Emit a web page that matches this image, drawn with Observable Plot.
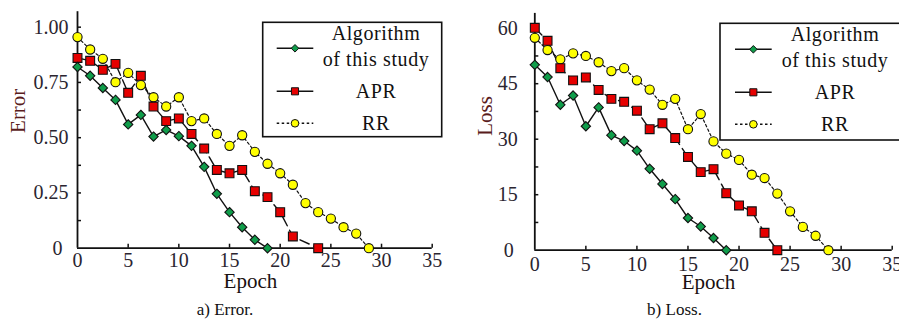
<!DOCTYPE html>
<html>
<head>
<meta charset="utf-8">
<script src="https://cdn.jsdelivr.net/npm/d3@7"></script>
<script src="https://cdn.jsdelivr.net/npm/@observablehq/plot@0.6"></script>
<style>
  html, body { margin: 0; padding: 0; background: #fff; }
  #wrap { display: flex; width: 899px; height: 326px; overflow: hidden; }
  .panel { position: relative; }
  .cap { font-family: "Liberation Serif", "Tinos", "DejaVu Serif", serif; font-size: 17px; text-align: center; height: 30px; line-height: 28px; color: #111; }
</style>
</head>
<body>
<div id="wrap">
  <div class="panel" id="p1"></div>
  <div class="panel" id="p2"></div>
</div>
<script>
// ---------- data ----------
const seriesNames = ["Algorithm of this study", "APR", "RR"];
const legendLines = [["Algorithm", "of this study"], ["APR"], ["RR"]];

const epochsOurs = [0,1.25,2.5,3.75,5,6.25,7.5,8.75,10,11.25,12.5,13.75,15,16.25,17.5,18.75];
const epochsAprErr = [0,1.25,2.5,3.75,5,6.25,7.5,8.75,10,11.25,12.5,13.75,15,16.25,17.5,18.75,20,21.25,23.75];
const epochsAprLoss = [0,1.25,2.5,3.75,5,6.25,7.5,8.75,10,11.25,12.5,13.75,15,16.25,17.5,18.75,20,21.25,22.5,23.75];
const epochsRR = [0,1.25,2.5,3.75,5,6.25,7.5,8.75,10,11.25,12.5,13.75,15,16.25,17.5,18.75,20,21.25,22.5,23.75,25,26.25,27.5,28.75];

const oursErr = [0.82,0.78,0.725,0.671,0.56,0.603,0.505,0.535,0.507,0.463,0.368,0.246,0.163,0.095,0.038,0];
const aprErr  = [0.861,0.848,0.807,0.834,0.703,0.78,0.641,0.575,0.587,0.517,0.451,0.354,0.339,0.354,0.258,0.231,0.163,0.053,0];
const rrErr   = [0.955,0.899,0.857,0.751,0.793,0.738,0.683,0.641,0.683,0.575,0.587,0.517,0.463,0.511,0.436,0.382,0.339,0.287,0.204,0.163,0.134,0.095,0.066,0];

const oursLoss = [50.1,46.8,39.3,41.8,33.5,38.6,31.1,29.5,26.9,22.0,17.9,13.8,8.7,6.4,3.3,0];
const aprLoss  = [60.1,56.6,49.2,45.9,46.7,43.3,40.9,40.1,37.7,32.7,34.3,30.3,25.2,21.1,21.9,15.4,12.1,10.5,4.7,0];
const rrLoss   = [57.4,54.1,51.6,53.2,52.5,50.8,48.4,49.2,45.9,43.4,39.3,40.9,32.7,36.8,29.4,26.1,24.4,20.4,19.5,15.3,10.5,6.3,3.9,0];

const xTicks = [0,5,10,15,20,25,30,35];
const errTickValues = [0,0.25,0.5,0.75,1];
const errTickLabels = ["0","0.25","0.50","0.75","1.00"];
const errMinor = [0.125,0.25,0.375,0.5,0.625,0.75,0.875,1];
const lossTickValues = [0,15,30,45,60];
const lossTickLabels = ["0","15","30","45","60"];
const lossMinor = [7.5,15,22.5,30,37.5,45,52.5,60];

const captions = ["a) Error.", "b) Loss."];
const yTitles = ["Error", "Loss"];
const xTitle = "Epoch";

// ---------- styling ----------
const FONT = "'Liberation Serif', 'Tinos', 'DejaVu Serif', serif";
const styles = [
  {fill: "#0f9d4a", symbol: "diamond2", r: 4.2, dash: null, sw: 1.4},
  {fill: "#e60000", symbol: "square", r: 5.0, dash: "10,5", sw: 1.4},
  {fill: "#ffff00", symbol: "circle", r: 4.6, dash: "2.5,2.5", sw: 1.2}
];

function rowsOf(xs, ys, s) { return xs.map((x, i) => ({epoch: x, value: ys[i], series: s})); }

function chart(cfg) {
  const H = 296;
  const fw = cfg.width - cfg.mL - cfg.mR;
  const fh = H - cfg.mT - cfg.mB;
  const marks = [
    Plot.ruleX([0], {y1: 0, y2: cfg.yMax, stroke: "#111", strokeWidth: 1.8}),
    Plot.ruleY([0], {x1: 0, x2: 35, stroke: "#111", strokeWidth: 1.8}),
    Plot.tickY(cfg.minor, {y: d => d, insetRight: fw - 4, stroke: "#111", strokeWidth: 1.5}),
    Plot.tickX(xTicks.slice(1), {x: d => d, insetTop: fh - 4, stroke: "#111", strokeWidth: 1.5}),
    Plot.axisY(cfg.tickValues.slice(1), {tickSize: 0, tickPadding: cfg.yPad, label: null, fontSize: 20, fill: "#2a2530",
      tickFormat: d => cfg.tickLabels[cfg.tickValues.indexOf(d)]}),
    Plot.axisY([0], {tickSize: 0, tickPadding: cfg.zeroPad, label: null, fontSize: 20, fill: "#2a2530",
      tickFormat: d => cfg.tickLabels[cfg.tickValues.indexOf(d)]}),
    Plot.axisX(xTicks, {tickSize: 0, tickPadding: cfg.xPad, label: null, fontSize: 20, fill: "#2a2530",
      tickFormat: d => String(d)}),
    Plot.text([xTitle], {frameAnchor: "bottom", dx: cfg.xtDx, dy: cfg.xtDy, lineAnchor: "middle", fontSize: 21, fill: "#1a1010", text: d => d}),
    Plot.text([cfg.yTitle], {frameAnchor: "left", rotate: -90, dx: cfg.ytDx, dy: cfg.ytDy, lineAnchor: "middle", fontSize: 21, fill: "#5a1c1c", text: d => d})
  ];
  [2, 1, 0].forEach(k => {
    const st = styles[k];
    marks.push(Plot.line(cfg.series[k], {x: "epoch", y: "value", stroke: "#111", strokeWidth: st.sw, strokeDasharray: st.dash}));
  });
  [2, 1, 0].forEach(k => {
    const st = styles[k];
    marks.push(Plot.dot(cfg.series[k], {x: "epoch", y: "value", symbol: () => st.symbol, r: st.r, fill: st.fill, stroke: "#111", strokeWidth: 1.1}));
  });
  const svg = Plot.plot({
    width: cfg.width, height: H,
    marginLeft: cfg.mL, marginRight: cfg.mR, marginTop: cfg.mT, marginBottom: cfg.mB,
    x: {domain: [0, 35], label: null},
    y: {domain: [0, cfg.yMax], label: null},
    symbol: {type: "identity"},
    style: {fontFamily: FONT, fontSize: "20px", background: "#fff", color: "#111", overflow: "hidden"},
    marks
  });
  addLegend(svg, cfg.legend);
  return svg;
}

function addLegend(svg, L) {
  const g = d3.select(svg).append("g").style("font-family", FONT).style("font-size", "20px");
  g.append("rect").attr("x", L.x).attr("y", L.y).attr("width", L.w).attr("height", L.h)
    .attr("fill", "#fff").attr("stroke", "#111").attr("stroke-width", 1.6);
  const mid = (L.x1 + L.x2) / 2;
  const rowY = [L.y + 26, L.y + 69, L.y + 101];
  const symR = [3.4, 4.0, 3.8];
  styles.forEach((st, k) => {
    const y = rowY[k];
    g.append("line").attr("x1", L.x1).attr("x2", L.x2).attr("y1", y).attr("y2", y)
      .attr("stroke", "#111").attr("stroke-width", st.sw + 0.2)
      .attr("stroke-dasharray", k === 2 ? "2.5,2.5" : null);
    const sym = k === 0 ? d3.symbolDiamond2 : k === 1 ? d3.symbolSquare : d3.symbolCircle;
    g.append("path").attr("transform", `translate(${mid},${y})`)
      .attr("d", d3.symbol(sym, symR[k] * symR[k] * Math.PI)())
      .attr("fill", st.fill).attr("stroke", "#111").attr("stroke-width", 1);
    const lines = legendLines[k];
    lines.forEach((t, j) => {
      const ty = lines.length === 1 ? y : y - 15 + j * 25.5;
      g.append("text").attr("x", L.tx).attr("y", ty).attr("dy", "0.34em")
        .attr("text-anchor", "middle").attr("fill", "#111").attr("letter-spacing", "0.6px").text(t);
    });
  });
}

const errSeries = [rowsOf(epochsOurs, oursErr, seriesNames[0]), rowsOf(epochsAprErr, aprErr, seriesNames[1]), rowsOf(epochsRR, rrErr, seriesNames[2])];
const lossSeries = [rowsOf(epochsOurs, oursLoss, seriesNames[0]), rowsOf(epochsAprLoss, aprLoss, seriesNames[1]), rowsOf(epochsRR, rrLoss, seriesNames[2])];

const c1 = chart({
  width: 450, mL: 77, mR: 18.3, mT: 11.2, mB: 48.3, yMax: 1.07,
  minor: errMinor, tickValues: errTickValues, tickLabels: errTickLabels,
  yPad: 9, zeroPad: 15, xPad: 4.5, xtDx: -4.4, xtDy: 33.3, ytDx: -59, ytDy: 3,
  yTitle: yTitles[0], series: errSeries,
  legend: {x: 262.7, y: 22.3, w: 179, h: 114.4, x1: 276.7, x2: 313.3, tx: 376}
});
const c2 = chart({
  width: 449, mL: 84.3, mR: 7.3, mT: 12.9, mB: 46.3, yMax: 64,
  minor: lossMinor, tickValues: lossTickValues, tickLabels: lossTickLabels,
  yPad: 17, zeroPad: 21, xPad: 6.4, xtDx: -5, xtDy: 32.3, ytDx: -50, ytDy: 4,
  yTitle: yTitles[1], series: lossSeries,
  legend: {x: 270, y: 23.3, w: 220, h: 116.7, x1: 285, x2: 321.7, tx: 385}
});

const p1 = document.getElementById("p1");
p1.appendChild(c1);
const cap1 = document.createElement("div"); cap1.className = "cap"; cap1.textContent = captions[0]; p1.appendChild(cap1);
const p2 = document.getElementById("p2");
p2.appendChild(c2);
const cap2 = document.createElement("div"); cap2.className = "cap"; cap2.textContent = captions[1]; p2.appendChild(cap2);
</script>
</body>
</html>
